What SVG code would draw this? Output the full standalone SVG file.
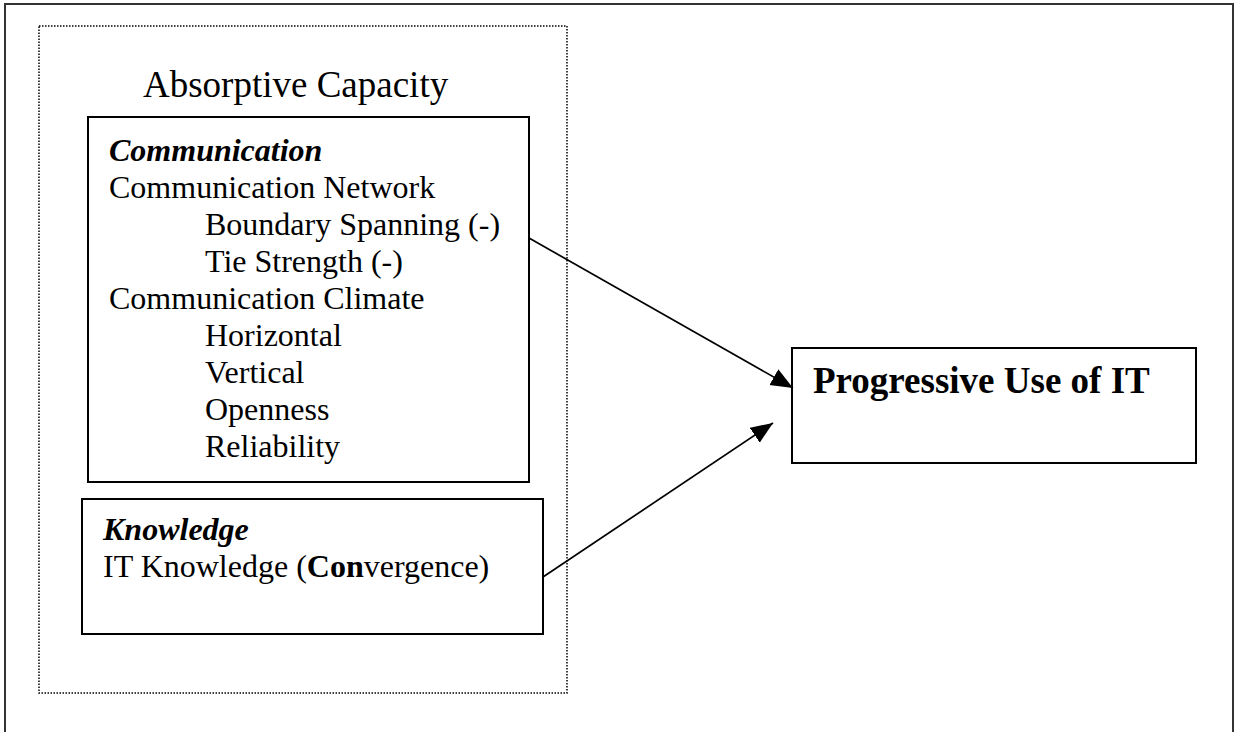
<svg xmlns="http://www.w3.org/2000/svg" width="1234" height="732" viewBox="0 0 1234 732">
<style>
  text { font-family: "Liberation Serif", "Times New Roman", serif; fill: #000; }
  .box { fill: #fff; stroke: #000; stroke-width: 2; }
  .frame { fill: none; stroke: #333; stroke-width: 2; }
  .dotted { fill: none; stroke: #000; stroke-width: 1.5; stroke-dasharray: 1.5 1.5; }
  .t32 { font-size: 32px; }
  .conn { stroke: #000; stroke-width: 1.7; fill: none; }
</style>
<defs>
  <marker id="arrow" markerUnits="userSpaceOnUse" markerWidth="24" markerHeight="20" refX="22" refY="9" orient="auto">
    <path d="M0,0 L22,9 L0,18 Z" fill="#000"/>
  </marker>
</defs>
<rect width="1234" height="732" fill="#fff"/>
<path class="frame" d="M5,740 V4 H1233 V740"/>

<g id="absorptive-capacity">
  <rect class="dotted" x="39" y="26" width="528" height="667"/>
  <text x="143" y="97" style="font-size:37px">Absorptive Capacity</text>
</g>

<g id="communication">
  <rect class="box" x="88" y="117" width="441" height="365"/>
  <text class="t32" x="109" y="161" font-style="italic" font-weight="bold">Communication</text>
  <text class="t32" x="109" y="198">Communication Network</text>
  <text class="t32" x="205" y="235">Boundary Spanning (-)</text>
  <text class="t32" x="205" y="272">Tie Strength (-)</text>
  <text class="t32" x="109" y="309">Communication Climate</text>
  <text class="t32" x="205" y="346">Horizontal</text>
  <text class="t32" x="205" y="383">Vertical</text>
  <text class="t32" x="205" y="420">Openness</text>
  <text class="t32" x="205" y="457">Reliability</text>
</g>

<g id="knowledge">
  <rect class="box" x="82" y="499" width="461" height="135"/>
  <text class="t32" x="103" y="540" font-style="italic" font-weight="bold">Knowledge</text>
  <text class="t32" x="103" y="577">IT Knowledge (<tspan font-weight="bold">Con</tspan>vergence)</text>
</g>

<g id="progressive-use">
  <rect class="box" x="792" y="348" width="404" height="115"/>
  <text x="813" y="393" style="font-size:37px" font-weight="bold">Progressive Use of IT</text>
</g>

<g id="connectors">
  <line class="conn" x1="529" y1="238" x2="793" y2="388" marker-end="url(#arrow)"/>
  <line class="conn" x1="543" y1="577" x2="773" y2="423" marker-end="url(#arrow)"/>
</g>
</svg>
